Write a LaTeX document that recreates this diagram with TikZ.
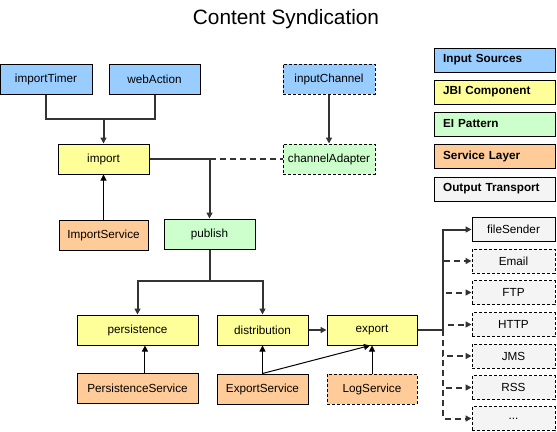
\documentclass[tikz,border=0pt]{standalone}
\usepackage{fontspec}
\setmainfont{Liberation Sans}
\usetikzlibrary{arrows.meta}
\definecolor{cblue}{HTML}{99CCFF}
\definecolor{cyellow}{HTML}{FFFF99}
\definecolor{cgreen}{HTML}{CCFFCC}
\definecolor{corange}{HTML}{FFCC99}
\definecolor{cgray}{HTML}{F4F4F4}
\definecolor{cline}{HTML}{333333}
\tikzset{
  box/.style={draw=black, line width=0.75pt, inner sep=0pt, minimum height=22.5pt,
    font=\fontsize{8.8}{10}\selectfont},
  dbox/.style={box, dash pattern=on 2.25pt off 1.5pt},
  outbox/.style={box, fill=cgray, minimum width=62.25pt, minimum height=18pt},
  legbox/.style={draw=black, line width=0.75pt, minimum width=90.75pt, minimum height=18pt,
    inner sep=0pt, text width=77pt, align=left, font=\fontsize{8.8}{10}\selectfont\bfseries},
  tarrow/.style={-{Triangle[length=4.5pt,width=4.5pt]}},
  thickline/.style={draw=cline, line width=1.5pt},
  thinline/.style={draw=black, line width=0.75pt},
  dline/.style={thickline, dash pattern=on 4.5pt off 3pt},
}
\begin{document}
\begin{tikzpicture}[x=0.75pt,y=-0.75pt]
\useasboundingbox (0,0) rectangle (557,432);
\node (title) at (286,19.5) {\fontsize{15.6}{18}\selectfont Content Syndication};
% input row
\node[box, fill=cblue, minimum width=69pt] (importTimer) at (46,79) {importTimer};
\node[box, fill=cblue, minimum width=68.25pt] (webAction) at (154.5,79) {webAction};
\node[dbox, fill=cblue, minimum width=69pt] (inputChannel) at (329,79) {inputChannel};
% second row
\node[box, fill=cyellow, minimum width=68.25pt] (import) at (103.5,159) {import};
\node[dbox, fill=cgreen, minimum width=69pt] (channelAdapter) at (329,159) {channelAdapter};
\node[box, fill=corange, minimum width=66.75pt] (ImportService) at (103.5,235) {ImportService};
\node[box, fill=cgreen, minimum width=68.25pt] (publish) at (209.5,234) {publish};
% lower rows
\node[box, fill=cyellow, minimum width=90.75pt] (persistence) at (137.5,330) {persistence};
\node[box, fill=cyellow, minimum width=68.25pt] (distribution) at (262.5,330) {distribution};
\node[box, fill=cyellow, minimum width=67.5pt] (export) at (372,330) {export};
\node[box, fill=corange, minimum width=90.75pt] (PersistenceService) at (137.5,388) {PersistenceService};
\node[box, fill=corange, minimum width=68.25pt] (ExportService) at (262.5,389) {ExportService};
\node[dbox, fill=corange, minimum width=67.5pt] (LogService) at (372,389) {LogService};
% outputs
\node[outbox] (fileSender) at (513.5,229.5) {fileSender};
\node[outbox, dash pattern=on 2.25pt off 1.5pt] (Email) at (513.5,261) {Email};
\node[outbox, dash pattern=on 2.25pt off 1.5pt] (FTP) at (513.5,292.5) {FTP};
\node[outbox, dash pattern=on 2.25pt off 1.5pt] (HTTP) at (513.5,324.5) {HTTP};
\node[outbox, dash pattern=on 2.25pt off 1.5pt] (JMS) at (513.5,356) {JMS};
\node[outbox, dash pattern=on 2.25pt off 1.5pt] (RSS) at (513.5,387.5) {RSS};
\node[outbox, dash pattern=on 2.25pt off 1.5pt] (more) at (513.5,418.5) {...};
% legend
\node[legbox, fill=cblue] (lg1) at (494.5,60) {Input Sources};
\node[legbox, fill=cyellow] (lg2) at (494.5,92) {JBI Component};
\node[legbox, fill=cgreen] (lg3) at (494.5,124) {EI Pattern};
\node[legbox, fill=corange] (lg4) at (494.5,156) {Service Layer};
\node[legbox, fill=cgray] (lg5) at (494.5,189) {Output Transport};
% junctions
\coordinate (jA) at (103.5,119);
\coordinate (jB) at (209.5,159);
\coordinate (jC) at (209.5,281);
\coordinate (jD) at (443,330);
% connectors
\draw[thickline] (importTimer.south) |- (jA);
\draw[thickline] (webAction.south) |- (jA);
\draw[thickline, tarrow] (jA) -- (import.north);
\draw[thickline] (import.east) -- (jB);
\draw[thickline, tarrow] (jB) -- (publish.north);
\draw[dline] (jB) -- (channelAdapter.west);
\draw[thickline, tarrow] (inputChannel.south) -- (channelAdapter.north);
\draw[thinline, tarrow] (ImportService.north) -- (import.south);
\draw[thickline] (publish.south) -- (jC);
\draw[thickline, tarrow] (jC) -| (persistence.north);
\draw[thickline, tarrow] (jC) -| (distribution.north);
\draw[thinline, tarrow] ([xshift=5.6pt]PersistenceService.north) -- ([xshift=5.6pt]persistence.south);
\draw[thinline, tarrow] (ExportService.north) -- (distribution.south);
\draw[thinline, tarrow] (ExportService.north) -- ([xshift=-1.5pt]export.south);
\draw[thinline, tarrow] (LogService.north) -- (export.south);
\draw[thickline, tarrow] (distribution.east) -- (export.west);
\draw[thickline] (export.east) -- (jD);
\draw[dline, tarrow] (jD) |- (Email.west);
\draw[dline, tarrow] (jD) |- (FTP.west);
\draw[dline, tarrow] (jD) |- (HTTP.west);
\draw[dline, tarrow] (jD) |- (JMS.west);
\draw[dline, tarrow] (jD) |- (RSS.west);
\draw[dline, tarrow] (jD) |- (more.west);
\draw[thickline, tarrow] (jD) |- (fileSender.west);
\end{tikzpicture}
\end{document}
